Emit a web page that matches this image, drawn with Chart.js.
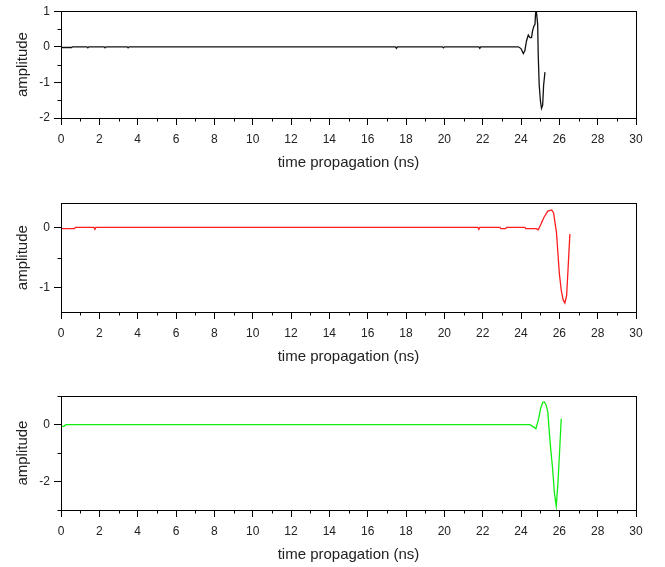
<!DOCTYPE html>
<html>
<head>
<meta charset="utf-8">
<script src="https://cdn.jsdelivr.net/npm/chart.js@4"></script>
<style>
  body { margin: 0; background: #fff; }
  .panel { position: absolute; left: 0; width: 665px; }
</style>
</head>
<body>
<div class="panel" style="top:0px;height:174px"><canvas id="c1"></canvas></div>
<div class="panel" style="top:190px;height:178px"><canvas id="c2"></canvas></div>
<div class="panel" style="top:385px;height:181px"><canvas id="c3"></canvas></div>
<script>
// time axis (ns) shared by all three traces
const xTicks = [0, 2, 4, 6, 8, 10, 12, 14, 16, 18, 20, 22, 24, 26, 28, 30];

// trace 1 (black)
const time1 = [0, 0.55, 0.6, 1.35, 1.4, 1.45, 2.25, 2.3, 2.35, 3.45, 3.5, 3.55,
  17.45, 17.5, 17.55, 19.9, 19.95, 20.0, 21.8, 21.85, 21.9, 23.86, 24.0, 24.12,
  24.2, 24.29, 24.38, 24.47, 24.55, 24.6, 24.67, 24.73, 24.76, 24.8, 24.87, 24.9,
  24.95, 25.02, 25.07, 25.13, 25.18, 25.25];
const amp1 = [-0.02, -0.02, 0, 0, -0.03, 0, 0, -0.03, 0, 0, -0.03, 0,
  0, -0.04, 0, 0, -0.03, 0, 0, -0.04, 0, 0, -0.05, -0.19,
  -0.11, 0.17, 0.33, 0.26, 0.26, 0.44, 0.58, 0.63, 0.95, 1.0, 0.63, -0.25,
  -1.08, -1.55, -1.73, -1.64, -1.08, -0.71];
const yTicks1 = [-2, -1, 0, 1];

// trace 2 (red)
const time2 = [0, 0.7, 0.75, 1.72, 1.77, 1.82, 21.75, 21.8, 21.85, 22.9, 22.95, 23.2,
  23.25, 24.2, 24.25, 24.8, 24.9, 25.05, 25.2, 25.4, 25.6, 25.7, 25.85, 25.94,
  26.0, 26.1, 26.2, 26.29, 26.38, 26.46, 26.55];
const amp2 = [-0.02, -0.02, 0, 0, -0.03, 0, 0, -0.03, 0, 0, -0.02, -0.02,
  0, 0, -0.02, -0.02, -0.04, 0.06, 0.17, 0.27, 0.29, 0.24, -0.08, -0.49,
  -0.76, -1.04, -1.2, -1.25, -1.13, -0.66, -0.11];
const yTicks2 = [-1, 0];

// trace 3 (green)
const time3 = [0, 0.15, 0.25, 24.47, 24.78, 24.92, 25.02, 25.13, 25.2, 25.3, 25.4,
  25.47, 25.55, 25.65, 25.74, 25.84, 25.93, 26.02, 26.1];
const amp3 = [-0.06, -0.06, 0, 0, -0.14, 0.21, 0.56, 0.78, 0.8, 0.71, 0.45,
  -0.2, -0.85, -1.55, -2.38, -2.87, -2.03, -0.85, 0.21];
const yTicks3 = [-2, 0];

const FONT = "'Liberation Sans', Arial, sans-serif";

// closes the box around the plot and adds short minor ticks halfway between majors
const framePlugin = {
  id: 'frame',
  afterDraw(chart) {
    const ctx = chart.ctx;
    const a = chart.chartArea;
    const xs = chart.scales.x, ys = chart.scales.y;
    ctx.save();
    ctx.strokeStyle = '#000';
    ctx.lineWidth = 1;
    ctx.strokeRect(Math.round(a.left) + 0.5, Math.round(a.top) + 0.5,
      Math.round(a.right - a.left), Math.round(a.bottom - a.top));
    ctx.beginPath();
    for (let i = 0; i < xs.ticks.length - 1; i++) {
      const px = Math.round(xs.getPixelForValue((xs.ticks[i].value + xs.ticks[i + 1].value) / 2)) + 0.5;
      ctx.moveTo(px, a.bottom);
      ctx.lineTo(px, a.bottom + 3.5);
    }
    const yv = ys.ticks.map(t => t.value);
    const step = yv.length > 1 ? yv[1] - yv[0] : 1;
    for (let v = yv[0] - step / 2; v <= ys.max + 1e-9; v += step) {
      if (v < ys.min - 1e-9) continue;
      const py = Math.round(ys.getPixelForValue(v)) + 0.5;
      ctx.moveTo(a.left, py);
      ctx.lineTo(a.left - 3.5, py);
    }
    ctx.stroke();
    ctx.restore();
  }
};

function makeChart(id, times, amps, color, yMin, yMax, yTicks, topPad) {
  const points = times.map((t, i) => ({ x: t, y: amps[i] }));
  return new Chart(document.getElementById(id), {
    type: 'line',
    data: {
      datasets: [{
        data: points,
        borderColor: color,
        borderWidth: 1.3,
        pointRadius: 0,
        tension: 0,
        fill: false
      }]
    },
    options: {
      responsive: true,
      maintainAspectRatio: false,
      animation: false,
      events: [],
      layout: { padding: { top: topPad, right: 29, left: 0, bottom: 0 } },
      plugins: { legend: { display: false }, tooltip: { enabled: false } },
      scales: {
        x: {
          type: 'linear',
          min: 0,
          max: 30,
          afterBuildTicks: s => { s.ticks = xTicks.map(v => ({ value: v })); },
          afterFit: s => { s.height = 56; },
          border: { display: true, color: '#000', width: 1 },
          grid: { drawOnChartArea: false, color: '#000', tickLength: 7 },
          ticks: { color: '#222', padding: 7, font: { family: FONT, size: 12 },
            maxRotation: 0, callback: v => String(v) },
          title: { display: true, text: 'time propagation (ns)', color: '#222',
            font: { family: FONT, size: 15 }, padding: { top: 0, bottom: 2 } }
        },
        y: {
          min: yMin,
          max: yMax,
          afterBuildTicks: s => { s.ticks = yTicks.map(v => ({ value: v })); },
          afterFit: s => { s.width = 61; },
          border: { display: true, color: '#000', width: 1 },
          grid: { drawOnChartArea: false, color: '#000', tickLength: 7 },
          ticks: { color: '#222', padding: 4, font: { family: FONT, size: 12 },
            callback: v => String(v) },
          title: { display: true, text: 'amplitude', color: '#222',
            font: { family: FONT, size: 15 }, padding: { top: 14, bottom: 0 } }
        }
      }
    },
    plugins: [framePlugin]
  });
}

makeChart('c1', time1, amp1, '#111111', -2, 1, yTicks1, 10.5);
makeChart('c2', time2, amp2, '#ff1c1c', -1.4, 0.4, yTicks2, 13.3);
makeChart('c3', time3, amp3, '#10ee10', -3, 1, yTicks3, 10.7);
</script>
</body>
</html>
